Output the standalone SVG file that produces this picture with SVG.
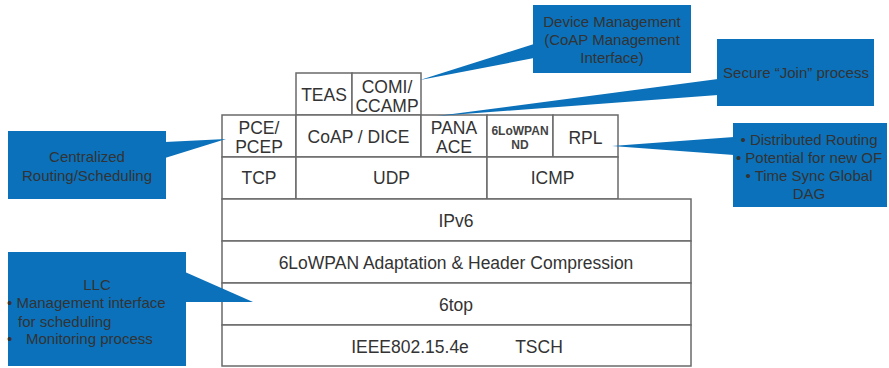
<svg xmlns="http://www.w3.org/2000/svg" width="889" height="368" viewBox="0 0 889 368">
<style>
.cell{fill:#fff;stroke:#6a6a6a;stroke-width:1.5}
.t{font-family:"Liberation Sans",Arial,sans-serif;font-size:17.5px;fill:#333;text-anchor:middle}
.s{font-size:12px;font-weight:bold;fill:#444}
.co{fill:#0B71BA}
.ct{font-family:"Liberation Sans",Arial,sans-serif;font-size:15px;fill:#333;text-anchor:middle}
.cl{text-anchor:start}
</style>
<rect width="889" height="368" fill="#fff"/>
<g id="stack">
<g id="teas"><rect class="cell" x="296" y="73" width="56" height="42"/><text class="t" x="324" y="101">TEAS</text></g>
<g id="comi"><rect class="cell" x="352" y="73" width="69" height="42"/><text class="t" x="387" y="93">COMI/</text><text class="t" x="387" y="112">CCAMP</text></g>
<g id="pce"><rect class="cell" x="222" y="115" width="74" height="42"/><text class="t" x="259" y="134">PCE/</text><text class="t" x="259" y="153">PCEP</text></g>
<g id="coap"><rect class="cell" x="296" y="115" width="125" height="42"/><text class="t" x="358.5" y="143">CoAP / DICE</text></g>
<g id="pana"><rect class="cell" x="421" y="115" width="66" height="42"/><text class="t" x="454" y="134">PANA</text><text class="t" x="454" y="153">ACE</text></g>
<g id="nd"><rect class="cell" x="487" y="115" width="66" height="42"/><text class="t s" x="520" y="135">6LoWPAN</text><text class="t s" x="520" y="149">ND</text></g>
<g id="rpl"><rect class="cell" x="553" y="115" width="65" height="42"/><text class="t" x="585.5" y="144">RPL</text></g>
<g id="tcp"><rect class="cell" x="222" y="157" width="74" height="42"/><text class="t" x="259" y="184">TCP</text></g>
<g id="udp"><rect class="cell" x="296" y="157" width="191" height="42"/><text class="t" x="391.5" y="184">UDP</text></g>
<g id="icmp"><rect class="cell" x="487" y="157" width="131" height="42"/><text class="t" x="552.5" y="184">ICMP</text></g>
<g id="ipv6"><rect class="cell" x="222" y="199" width="469" height="42"/><text class="t" x="456" y="227">IPv6</text></g>
<g id="adapt"><rect class="cell" x="222" y="241" width="469" height="42"/><text class="t" x="456" y="269">6LoWPAN Adaptation &amp; Header Compression</text></g>
<g id="sixtop"><rect class="cell" x="222" y="283" width="469" height="42"/><text class="t" x="456" y="311">6top</text></g>
<g id="tsch"><rect class="cell" x="222" y="325" width="469" height="41"/><text class="t" x="410" y="353">IEEE802.15.4e</text><text class="t" x="539" y="353">TSCH</text></g>
</g>
<g id="connectors">
<polygon class="co" points="534,44 420,80 534,58"/>
<polygon class="co" points="718,79 437,116 718,95"/>
<polygon class="co" points="165,142 226,139 165,158"/>
<polygon class="co" points="734,137 612,146 734,155"/>
<polygon class="co" points="185,272 253,302 185,302"/>
</g>
<g id="callout-device">
<rect class="co" x="533" y="5" width="158" height="68"/>
<text class="ct" x="612" y="27">Device Management</text>
<text class="ct" x="612" y="45">(CoAP Management</text>
<text class="ct" x="612" y="63">Interface)</text>
</g>
<g id="callout-join">
<rect class="co" x="717" y="39" width="157" height="67"/>
<text class="ct" x="796" y="78">Secure “Join” process</text>
</g>
<g id="callout-central">
<rect class="co" x="8" y="131" width="158" height="68"/>
<text class="ct" x="87" y="162">Centralized</text>
<text class="ct" x="87" y="181">Routing/Scheduling</text>
</g>
<g id="callout-rpl">
<rect class="co" x="733" y="123" width="154" height="84"/>
<text class="ct" x="809" y="145">• Distributed Routing</text>
<text class="ct" x="809" y="163">• Potential for new OF</text>
<text class="ct" x="809" y="181">• Time Sync Global</text>
<text class="ct" x="809" y="199">DAG</text>
</g>
<g id="callout-llc">
<rect class="co" x="8" y="252" width="178" height="114"/>
<text class="ct" x="97" y="290">LLC</text>
<text class="ct cl" x="7" y="308">• Management interface</text>
<text class="ct cl" x="18" y="327">for scheduling</text>
<text class="ct cl" x="7" y="344">•</text>
<text class="ct cl" x="26" y="344">Monitoring process</text>
</g>
</svg>
